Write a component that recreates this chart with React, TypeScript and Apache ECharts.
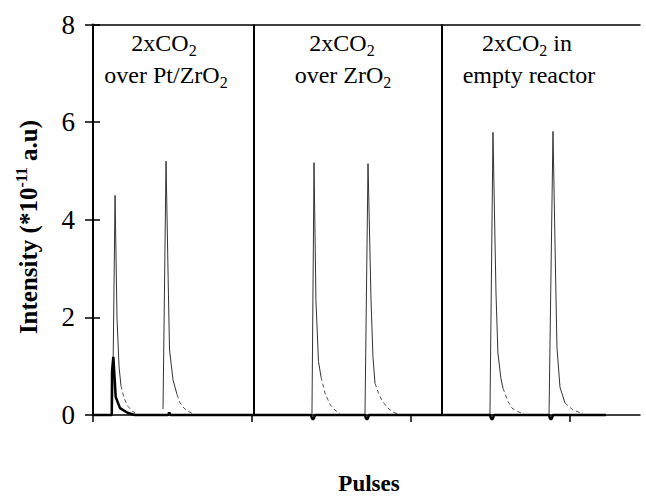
import React, { useEffect, useRef } from "react";
import * as echarts from "echarts";

// ---- data (x in pulse-time units, y in 1e-11 a.u.) ----
const yTicks = [0, 2, 4, 6, 8];
const xTickPulses = [0, 10, 20, 30];
const xMax = 34.45;
const separators = [10.14, 21.98];

// bold trace (product signal) along the baseline
const boldTrace: number[][] = [
  [0, 0], [1.18, 0], [1.2, 0.9], [1.28, 1.19], [1.43, 0.37], [1.7, 0.14], [2.2, 0.04], [2.64, 0],
  [4.72, 0], [4.8, 0.05], [4.88, 0],
  [13.73, 0], [13.79, -0.07], [13.85, -0.09], [13.91, -0.07], [13.98, 0],
  [17.13, 0], [17.19, -0.07], [17.25, -0.09], [17.31, -0.07], [17.38, 0],
  [25.0, 0], [25.07, -0.07], [25.13, -0.09], [25.19, -0.07], [25.25, 0],
  [28.72, 0], [28.78, -0.07], [28.84, -0.09], [28.9, -0.07], [28.97, 0],
  [32.3, 0],
];

// CO2 pulses: solid head and dashed tail
const pulse1aHead = [[1.23, 0], [1.39, 4.5], [1.51, 2.0], [1.64, 1.0], [1.76, 0.6]];
const pulse1aTail = [[1.76, 0.6], [1.95, 0.35], [2.2, 0.18], [2.46, 0.08], [2.77, 0.02]];
const pulse1bHead = [[4.41, 0.12], [4.6, 5.2], [4.75, 2.5], [4.82, 1.33], [5.04, 0.72], [5.29, 0.42]];
const pulse1bTail = [[5.29, 0.42], [5.48, 0.25], [5.73, 0.14], [5.98, 0.08], [6.3, 0.02]];
const pulse2aHead = [[13.79, 0], [13.92, 5.17], [14.04, 2.35], [14.2, 1.1], [14.36, 0.78]];
const pulse2aTail = [[14.36, 0.78], [14.61, 0.45], [14.92, 0.22], [15.24, 0.1], [15.55, 0.03]];
const pulse2bHead = [[17.13, 0], [17.32, 5.15], [17.51, 2.35], [17.63, 1.2], [17.76, 0.65]];
const pulse2bTail = [[17.76, 0.65], [18.01, 0.42], [18.2, 0.3], [18.51, 0.16], [18.89, 0.06], [19.21, 0.02]];
const pulse3aHead = [[25.0, 0], [25.19, 5.79], [25.38, 2.5], [25.5, 1.27], [25.69, 0.75], [25.82, 0.55]];
const pulse3aTail = [[25.82, 0.55], [26.13, 0.28], [26.39, 0.14], [26.76, 0.07], [27.14, 0.02]];
const pulse3bHead = [[28.72, 0], [28.97, 5.81], [29.16, 2.4], [29.22, 1.39], [29.41, 0.57], [29.72, 0.25]];
const pulse3bTail = [[29.72, 0.25], [30.23, 0.1], [30.86, 0.03]];

const heads = [pulse1aHead, pulse1bHead, pulse2aHead, pulse2bHead, pulse3aHead, pulse3bHead];
const tails = [pulse1aTail, pulse1bTail, pulse2aTail, pulse2bTail, pulse3aTail, pulse3bTail];

const panelLine1 = ["{n|2xCO}{s|2}", "{n|2xCO}{s|2}", "{n|2xCO}{s|2}{n| in}"];
const panelLine2 = ["{n|over Pt/ZrO}{s|2}", "{n|over ZrO}{s|2}", "{n|empty reactor}"];
const yTitle = "{n|Intensity (*10}{p|-11}{n| a.u)}";
const xTitle = "Pulses";

const SERIF = "'Liberation Serif', 'Times New Roman', serif";

export default function App() {
  const ref = useRef<HTMLDivElement>(null);
  useEffect(() => {
    if (!ref.current) return;
    const chart = echarts.init(ref.current, null, { renderer: "svg" });
    const line1X = [164, 342, 527];
    const line2X = [166, 343, 529];
    const subRich = {
      n: { fontSize: 24, fontFamily: SERIF, color: "#000", lineHeight: 30, verticalAlign: "middle" },
      s: { fontSize: 16, fontFamily: SERIF, color: "#000", lineHeight: 16, verticalAlign: "bottom" },
    };
    const panelTexts: any[] = [];
    panelLine1.forEach((t, i) => {
      panelTexts.push({
        type: "text", x: line1X[i], y: 43,
        style: { text: t, rich: subRich, align: "center", verticalAlign: "middle" },
      });
    });
    panelLine2.forEach((t, i) => {
      panelTexts.push({
        type: "text", x: line2X[i], y: 75,
        style: { text: t, rich: subRich, align: "center", verticalAlign: "middle" },
      });
    });

    const series: any[] = [];
    heads.forEach((d) =>
      series.push({ type: "line", data: d, symbol: "none", clip: false, lineStyle: { color: "#333", width: 1 }, z: 3 })
    );
    tails.forEach((d) =>
      series.push({ type: "line", data: d, symbol: "none", clip: false, lineStyle: { color: "#555", width: 1, type: [4, 3] }, z: 3 })
    );
    series.push({
      type: "line", data: boldTrace, symbol: "none", clip: false, z: 4,
      lineStyle: { color: "#000", width: 2.5 },
      markLine: {
        silent: true, symbol: "none", label: { show: false },
        lineStyle: { color: "#000", width: 2, type: "solid" },
        data: separators.map((x) => ({ xAxis: x })),
      },
    });

    chart.setOption({
      animation: false,
      backgroundColor: "#fff",
      grid: { left: 93, right: 6, top: 24.5, bottom: 81 },
      xAxis: [
        {
          type: "value", min: 0, max: xMax, interval: 10,
          axisLine: { show: true, onZero: false, lineStyle: { color: "#000", width: 1.5 } },
          axisTick: { show: true, length: 7, lineStyle: { color: "#000", width: 1.5 }, customValues: xTickPulses },
          axisLabel: { show: false }, splitLine: { show: false },
        },
        {
          type: "value", position: "top", min: 0, max: xMax,
          axisLine: { show: true, onZero: false, lineStyle: { color: "#000", width: 1.5 } },
          axisTick: { show: false }, axisLabel: { show: false }, splitLine: { show: false },
        },
      ],
      yAxis: [
        {
          type: "value", min: 0, max: 8, interval: 2,
          axisLine: { show: true, lineStyle: { color: "#000", width: 2 } },
          axisTick: { show: true, length: 8, lineStyle: { color: "#000", width: 1.5 }, customValues: yTicks },
          axisLabel: { color: "#000", fontSize: 27, fontFamily: SERIF, margin: 18, customValues: yTicks },
          splitLine: { show: false },
        },
        {
          type: "value", min: 0, max: 8, interval: 2, position: "left",
          axisLine: { show: false },
          axisTick: { show: true, inside: true, length: 7, lineStyle: { color: "#000", width: 1.5 } },
          axisLabel: { show: false }, splitLine: { show: false },
        },
      ],
      series,
      graphic: [
        ...panelTexts,
        {
          type: "text", x: 28, y: 227, rotation: Math.PI / 2,
          style: {
            text: yTitle, align: "center", verticalAlign: "middle",
            rich: {
              n: { fontSize: 25, fontWeight: "bold", fontFamily: SERIF, color: "#000", lineHeight: 30, verticalAlign: "middle" },
              p: { fontSize: 16, fontWeight: "bold", fontFamily: SERIF, color: "#000", lineHeight: 16, verticalAlign: "top" },
            },
          },
        },
        {
          type: "text", x: 369, y: 483,
          style: { text: xTitle, align: "center", verticalAlign: "middle", font: `bold 23px ${SERIF}`, fill: "#000" },
        },
      ],
    });
    return () => chart.dispose();
  }, []);
  return <div ref={ref} style={{ position: "fixed", left: 0, top: 0, width: 646, height: 496, background: "#fff" }} />;
}
